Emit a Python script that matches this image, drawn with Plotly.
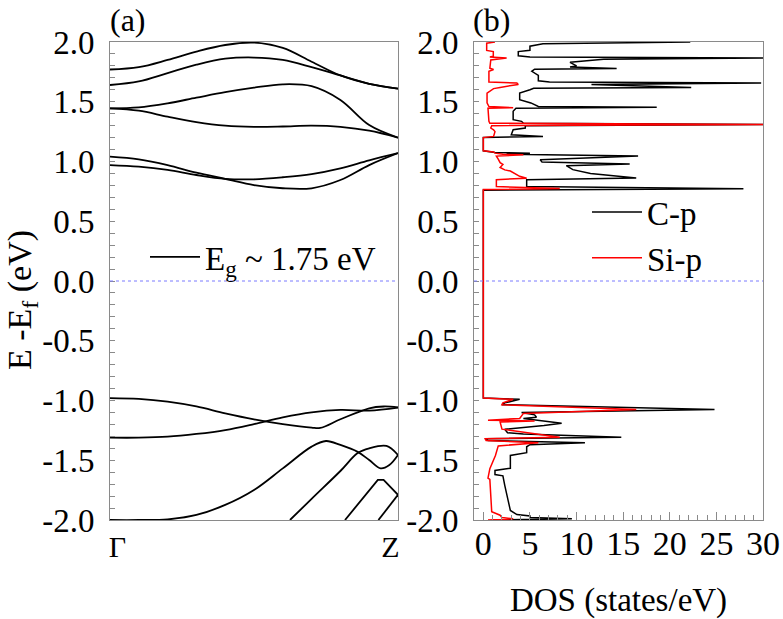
import plotly.graph_objects as go

FONT = "Times New Roman, Liberation Serif, serif"
W, H = 783, 619

# ---------------- band structure (k from Gamma=0 to Z=1) ----------------
k_std = [0.0, 0.1, 0.2, 0.3, 0.4, 0.5, 0.6, 0.7, 0.8, 0.9, 1.0]
band_1 = [1.77, 1.79, 1.85, 1.92, 1.975, 1.995, 1.95, 1.835, 1.72, 1.65, 1.61]
band_2 = [1.64, 1.67, 1.74, 1.81, 1.86, 1.87, 1.85, 1.79, 1.72, 1.65, 1.61]
band_3 = [1.445, 1.453, 1.487, 1.534, 1.58, 1.618, 1.646, 1.63, 1.515, 1.305, 1.20]
band_4 = [1.445, 1.425, 1.375, 1.33, 1.30, 1.29, 1.293, 1.30, 1.29, 1.258, 1.20]
band_5 = [1.04, 1.018, 0.97, 0.906, 0.855, 0.803, 0.776, 0.776, 0.845, 0.97, 1.07]
band_6 = [0.97, 0.957, 0.93, 0.887, 0.855, 0.851, 0.868, 0.895, 0.943, 1.01, 1.07]
k_7 = [0.0, 0.1, 0.2, 0.3, 0.4, 0.5, 0.6, 0.7, 0.73, 0.8, 0.9, 0.95, 1.0]
band_7 = [-0.98, -0.987, -1.01, -1.05, -1.107, -1.157, -1.197, -1.227, -1.23, -1.157, -1.065, -1.05, -1.057]
band_8 = [-1.311, -1.311, -1.303, -1.28, -1.247, -1.197, -1.141, -1.099, -1.079, -1.085, -1.06]
k_9 = [0.0, 0.1, 0.2, 0.3, 0.4, 0.5, 0.6, 0.7, 0.75, 0.8, 0.86, 0.9, 0.94, 0.97, 1.0]
band_9 = [-2.0, -2.0, -1.995, -1.958, -1.874, -1.749, -1.568, -1.386, -1.339, -1.372, -1.43, -1.498, -1.568, -1.54, -1.456]
k_10 = [0.625, 0.7, 0.8, 0.86, 0.9, 0.96, 1.0]
band_10 = [-2.0, -1.823, -1.59, -1.44, -1.40, -1.38, -1.456]
k_11 = [0.816, 0.874, 0.93, 0.95, 1.0]
band_11 = [-2.0, -1.83, -1.665, -1.665, -1.79]
k_12 = [0.932, 1.0]
band_12 = [-2.0, -1.79]

bands = [
    (k_std, band_1, "spline"), (k_std, band_2, "spline"),
    (k_std, band_3, "spline"), (k_std, band_4, "spline"),
    (k_std, band_5, "spline"), (k_std, band_6, "spline"),
    (k_7, band_7, "spline"), (k_std, band_8, "spline"),
    (k_9, band_9, "spline"), (k_10, band_10, "spline"),
    (k_11, band_11, "linear"), (k_12, band_12, "linear"),
]

k_tick_vals = [0, 1]
k_tick_text = ["\u00a0\u00a0\u0393", "Z\u00a0\u00a0"]

# ---------------- projected DOS ----------------
E_cp = [2.0, 1.985, 1.965, 1.93, 1.92, 1.885, 1.875, 1.866, 1.855, 1.83, 1.80, 1.79, 1.778, 1.772,
        1.755, 1.72, 1.676, 1.665, 1.657, 1.645, 1.62, 1.613, 1.60, 1.573, 1.517, 1.49, 1.46, 1.454,
        1.445, 1.42, 1.35, 1.336, 1.32, 1.31, 1.30, 1.28, 1.266, 1.224, 1.21, 1.20, 1.09, 1.075,
        1.07, 1.06, 1.045, 1.015, 0.995, 0.98, 0.965, 0.932, 0.90, 0.875, 0.862, 0.848, 0.79, 0.772,
        0.76, -0.98, -0.99, -1.02, -1.035, -1.075, -1.10, -1.12, -1.14, -1.15, -1.19, -1.21, -1.24,
        -1.27, -1.28, -1.308, -1.32, -1.335, -1.353, -1.37, -1.387, -1.437, -1.46, -1.567, -1.585,
        -1.62, -1.63, -1.71, -1.78, -1.86, -1.92, -1.955, -1.966, -1.98, -1.99, -2.0]
dos_cp = [22.2, 6.4, 5.0, 5.0, 3.75, 3.75, 5.0, 31.0, 12.9, 9.3, 10.0, 9.3, 14.3, 5.5,
          5.2, 5.9, 5.9, 7.1, 29.8, 11.6, 22.3, 5.4, 5.0, 3.9, 3.9, 5.1, 5.9, 18.6,
          3.5, 3.2, 3.2, 4.1, 4.3, 31.0, 4.5, 4.5, 3.2, 3.0, 6.4, 0.0, 0.0, 1.25,
          5.0, 2.5, 16.6, 6.1, 6.3, 15.7, 8.9, 9.6, 11.5, 14.5, 16.4, 4.65, 4.65, 27.9,
          0.0, 0.0, 3.9, 2.3, 2.0, 24.8, 4.1, 5.5, 5.7, 4.3, 8.4, 6.5, 2.3,
          2.6, 4.3, 14.8, 0.2, 0.5, 10.9, 5.0, 4.65, 4.65, 2.9, 2.9, 1.25,
          1.25, 2.1, 2.3, 2.5, 2.8, 2.9, 3.6, 5.0, 5.0, 9.5, 1.0]

E_sip = [2.0, 1.99, 1.93, 1.92, 1.88, 1.875, 1.866, 1.85, 1.78, 1.77, 1.755, 1.665, 1.657, 1.645,
         1.62, 1.61, 1.573, 1.49, 1.46, 1.45, 1.445, 1.35, 1.336, 1.32, 1.31, 1.30, 1.28, 1.265,
         1.25, 1.21, 1.20, 1.09, 1.08, 1.07, 1.06, 1.057, 1.045, 1.02, 0.99, 0.975, 0.95, 0.93,
         0.92, 0.876, 0.86, 0.848, 0.79, 0.774, 0.765, -0.98, -0.99, -1.02, -1.035, -1.075, -1.108,
         -1.15, -1.165, -1.172, -1.18, -1.24, -1.308, -1.32, -1.335, -1.353, -1.38, -1.46, -1.57,
         -1.65, -1.66, -1.93, -1.96, -1.98, -1.99, -2.0]
dos_sip = [1.25, 0.36, 0.36, 1.07, 1.07, 0.7, 2.5, 0.8, 0.7, 1.1, 0.6, 0.6, 3.6, 3.75,
           1.8, 1.1, 0.4, 0.4, 0.6, 3.2, 0.5, 0.6, 0.6, 0.7, 31.0, 0.9, 0.8, 1.1,
           1.25, 1.1, 0.0, 0.0, 1.1, 1.25, 2.1, 4.3, 1.4, 1.6, 1.8, 2.1, 1.8, 2.3,
           2.9, 3.9, 4.65, 1.4, 1.4, 8.2, 0.0, 0.0, 3.2, 2.1, 2.0, 16.4, 4.3,
           3.9, 0.5, 5.5, 1.8, 2.0, 8.2, 0.2, 0.3, 5.9, 1.6, 1.3, 0.7,
           0.5, 0.7, 0.9, 1.8, 2.0, 3.2, 0.5]

e_tick_vals = [-2.0, -1.5, -1.0, -0.5, 0.0, 0.5, 1.0, 1.5, 2.0]
e_tick_text = ["-2.0", "-1.5", "-1.0", "-0.5", "0.0", "0.5", "1.0", "1.5", "2.0"]
dos_tick_vals = [0, 5, 10, 15, 20, 25, 30]

fig = go.Figure()

for i, (kk, ee, shape) in enumerate(bands):
    ln = dict(color="black", width=1.8, shape=shape)
    if shape == "spline":
        ln["smoothing"] = 1.0
    fig.add_trace(go.Scatter(
        x=kk, y=ee, mode="lines", xaxis="x", yaxis="y", line=ln,
        name="E<sub>g</sub> ~ 1.75 eV", legendgroup="bands", legend="legend",
        showlegend=(i == 0), hoverinfo="skip"))

fig.add_trace(go.Scatter(x=dos_cp, y=E_cp, mode="lines", xaxis="x2", yaxis="y2",
                         line=dict(color="black", width=1.5), name="C-p", legend="legend2"))
fig.add_trace(go.Scatter(x=dos_sip, y=E_sip, mode="lines", xaxis="x2", yaxis="y2",
                         line=dict(color="red", width=1.5), name="Si-p", legend="legend2"))

axis_col = "#8a8a8a"
PH = 478  # plot height in px
common_y = dict(range=[-2, 2], tickvals=e_tick_vals, ticktext=e_tick_text, ticks="inside",
                ticklen=5, tickcolor=axis_col, showline=True, linecolor=axis_col, linewidth=1,
                mirror=True, showgrid=False, zeroline=False, domain=[0, 1], ticklabelstandoff=8,
                automargin=False,
                tickfont=dict(family=FONT, size=33, color="black"),
                minor=dict(dtick=0.1, ticks="inside", ticklen=5, tickcolor=axis_col, showgrid=False))

fig.update_layout(
    width=W, height=H, margin=dict(l=0, r=0, t=42, b=H - 520, autoexpand=False),
    paper_bgcolor="white", plot_bgcolor="white",
    font=dict(family=FONT, size=32, color="black"),
    xaxis=dict(domain=[110 / W, 398 / W], range=[0, 1], tickvals=k_tick_vals, ticktext=k_tick_text,
               ticks="", showline=True, linecolor=axis_col, mirror=True, showgrid=False,
               zeroline=False, anchor="y", automargin=False,
               tickfont=dict(family=FONT, size=30, color="black")),
    yaxis=dict(anchor="x", **common_y),
    xaxis2=dict(domain=[474 / W, 763 / W], range=[-1, 30], tickvals=dos_tick_vals, ticks="inside",
                ticklen=8, tickcolor=axis_col, showline=True, linecolor=axis_col, mirror=True,
                showgrid=False, zeroline=False, anchor="y2", automargin=False,
                ticklabelstandoff=-7,
                tickfont=dict(family=FONT, size=34, color="black"),
                minor=dict(dtick=1, tick0=0, ticks="inside", ticklen=5, tickcolor=axis_col, showgrid=False),
                title=dict(text="DOS (states/eV)", font=dict(family=FONT, size=33), standoff=30)),
    yaxis2=dict(anchor="x2", **common_y),
    legend=dict(x=145 / W, xanchor="left", y=1 - (257 - 42) / PH, yanchor="middle",
                bgcolor="rgba(0,0,0,0)", font=dict(family=FONT, size=33), itemwidth=50),
    legend2=dict(x=587 / W, xanchor="left", y=1 - (235 - 42) / PH, yanchor="middle",
                 bgcolor="rgba(0,0,0,0)", font=dict(family=FONT, size=33), itemwidth=50),
    shapes=[
        dict(type="line", xref="x domain", yref="y", x0=0, x1=1, y0=0, y1=0,
             line=dict(color="#7a7aff", width=1, dash="dot")),
        dict(type="line", xref="x2 domain", yref="y2", x0=0, x1=1, y0=0, y1=0,
             line=dict(color="#7a7aff", width=1, dash="dot")),
    ],
    annotations=[
        dict(text="(a)", x=108 / W, y=1 + 42 / PH, xref="paper", yref="paper", xanchor="left",
             yanchor="top", showarrow=False, font=dict(family=FONT, size=32)),
        dict(text="(b)", x=471 / W, y=1 + 42 / PH, xref="paper", yref="paper", xanchor="left",
             yanchor="top", showarrow=False, font=dict(family=FONT, size=32)),
        dict(text="E -E<sub>f</sub> (eV)", x=22 / W, y=1 - (300 - 42) / PH, xref="paper", yref="paper",
             xanchor="center", yanchor="middle", textangle=-90, showarrow=False,
             font=dict(family=FONT, size=34)),
    ],
)

fig.write_html("out.html")
